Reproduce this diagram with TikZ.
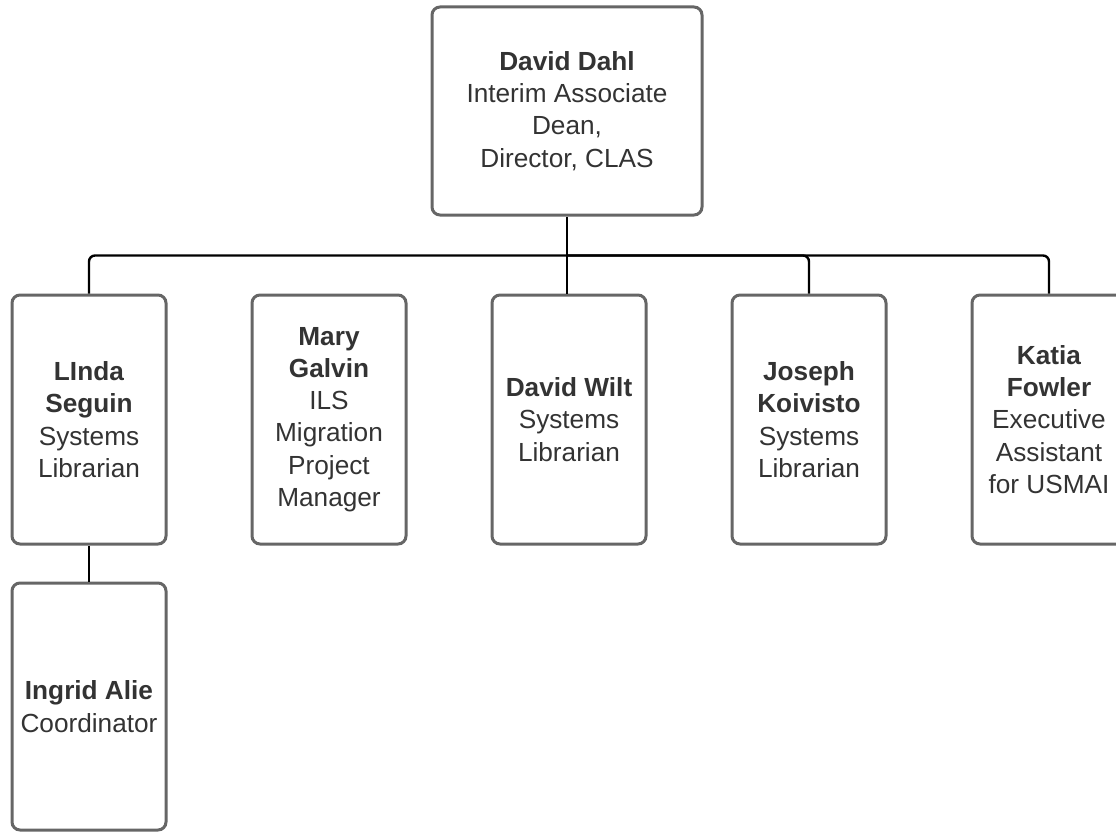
\documentclass[tikz,border=0pt]{standalone}
\usepackage{fontspec}
\setmainfont{Liberation Sans}
\definecolor{txt}{HTML}{333333}
\definecolor{brd}{HTML}{666666}
\begin{document}
\begin{tikzpicture}[x=1pt,y=1pt,
  box/.style={draw=brd, line width=3pt, rounded corners=8pt, fill=white,
    align=center, inner sep=0pt, text=txt,
    font=\fontsize{26.2}{32.3}\selectfont},
  child/.style={box, minimum width=154pt, minimum height=249pt},
  conn/.style={draw=black, line width=2.4pt, rounded corners=6pt}]
\useasboundingbox (0,0) rectangle (1116,-832);
\clip (0,0) rectangle (1116,-832);
\node[box, minimum width=270pt, minimum height=208pt] (top) at (567,-111)
  {\textbf{David Dahl}\\Interim Associate\\Dean,\\Director, CLAS};
\node[child] (c1) at (89,-419.5) {\textbf{LInda}\\\textbf{Seguin}\\Systems\\Librarian};
\node[child] (c2) at (329,-419.5) {\textbf{Mary}\\\textbf{Galvin}\\ILS\\Migration\\Project\\Manager};
\node[child] (c3) at (569,-419.5) {\textbf{David Wilt}\\Systems\\Librarian};
\node[child] (c4) at (809,-419.5) {\textbf{Joseph}\\\textbf{Koivisto}\\Systems\\Librarian};
\node[child] (c5) at (1049,-419.5) {\textbf{Katia}\\\textbf{Fowler}\\Executive\\Assistant\\for USMAI};
\node[child, minimum height=247pt] (c6) at (89,-706.5) {\textbf{Ingrid Alie}\\Coordinator};
\coordinate (bus) at (567,-255.5);
\draw[conn] (top.south) -- (top.south |- c3.north);
\draw[conn] (bus) -| (c1.north);
\draw[conn] (bus) -| (c4.north);
\draw[conn] (bus) -| (c5.north);
\draw[conn] (c1.south) -- (c6.north);
\end{tikzpicture}
\end{document}
